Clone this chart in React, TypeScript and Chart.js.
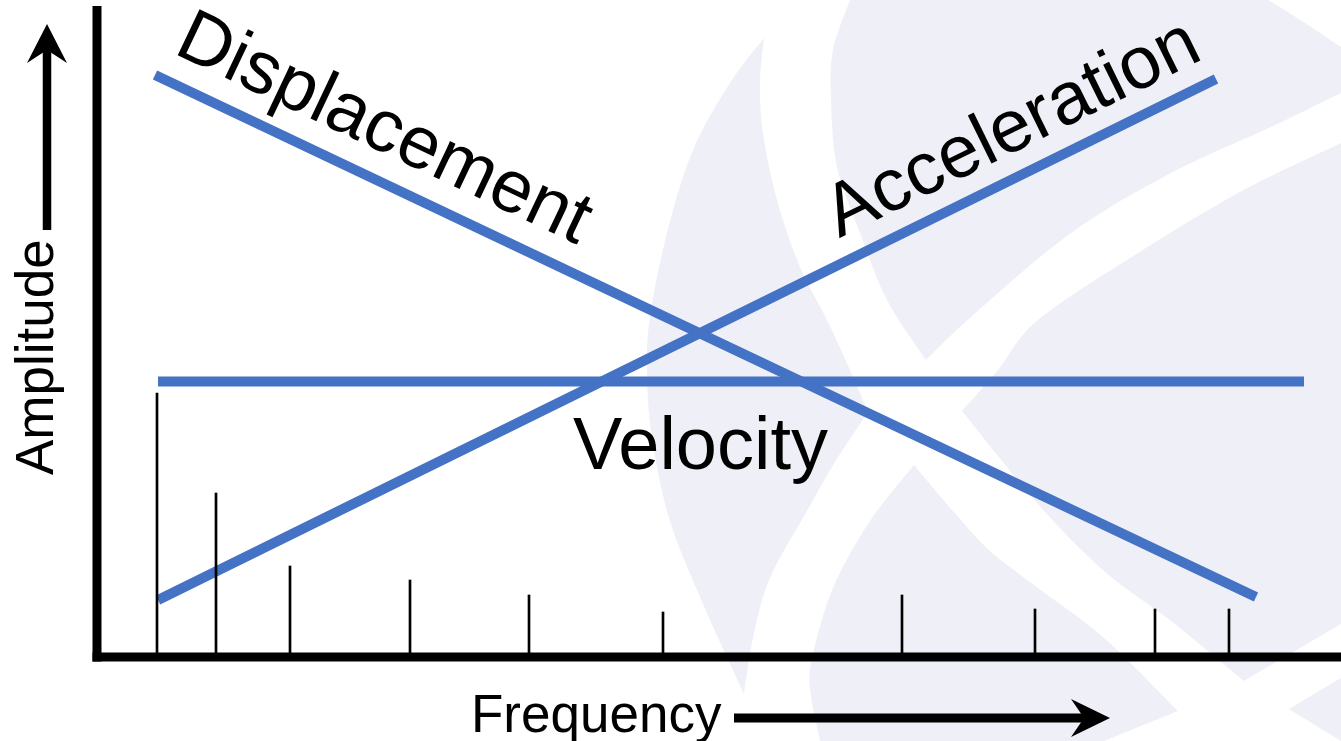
import React, { useEffect, useRef } from "react";
import { Chart, registerables } from "chart.js";

Chart.register(...registerables);

const W = 1341;
const H = 741;

// ---- data (arbitrary units: frequency along x, amplitude along y) ----
const spectrumFreqs = [6.0, 11.9, 19.3, 31.3, 43.2, 56.6, 80.5, 93.8, 105.8, 113.2];
const spectrumAmps = [26.4, 16.4, 9.1, 7.7, 6.2, 4.5, 6.2, 4.8, 4.8, 4.8];

const displacementX = [5.8, 115.9];
const displacementY = [58.2, 6.0];
const accelerationX = [6.1, 111.9];
const accelerationY = [5.7, 57.8];
const velocityX = [6.1, 120.7];
const velocityY = [27.55, 27.55];

const seriesNames = ["Displacement", "Velocity", "Acceleration"];
const xAxisTitle = "Frequency";
const yAxisTitle = "Amplitude";

const X_MAX = 124.4;
const Y_MAX = 65.7;

// ---- style ----
const LINE_BLUE = "#4472C4";
const WATERMARK = "#EFEFF7";
const FONT = '"Liberation Sans", Arial, sans-serif';

type Pt = [number, number];

// decorative background logo outline (pixels)
const WATERMARK_SHAPES: Pt[][][] = [
  [
    [[764, 38], [760, 83], [763, 133], [777, 200], [800, 267], [827, 320], [850, 370], [868, 412]],
    [[868, 412], [835, 462], [807, 511], [770, 578], [753, 638], [744, 694]],
    [[744, 694], [703, 604], [670, 521], [652, 438], [647, 371], [650, 317], [667, 233], [693, 150], [730, 83], [764, 38]],
  ],
  [
    [[850, 0], [833, 50], [831, 100], [837, 167], [860, 233], [887, 300], [926, 360]],
    [[926, 360], [971, 317], [1071, 233], [1171, 173], [1271, 127], [1341, 93]],
    [[1341, 93], [1341, 47]],
    [[1341, 47], [1302, 21], [1268, 0]],
    [[1268, 0], [850, 0]],
  ],
  [
    [[962, 411], [998, 370], [1038, 320], [1138, 253], [1238, 193], [1341, 143]],
    [[1341, 143], [1341, 624]],
    [[1341, 624], [1244, 681]],
    [[1244, 681], [1171, 621], [1104, 571], [1038, 504], [962, 411]],
  ],
  [
    [[914, 465], [953, 511], [990, 551], [1038, 588], [1104, 638], [1178, 711]],
    [[1178, 711], [1104, 741]],
    [[1104, 741], [820, 741]],
    [[820, 741], [810, 688], [813, 654], [833, 588], [870, 521], [914, 465]],
  ],
  [
    [[1289, 709], [1341, 678]],
    [[1341, 678], [1341, 741]],
    [[1341, 741], [1289, 709]],
  ],
];

function traceEdge(ctx: CanvasRenderingContext2D, pts: Pt[], first: boolean) {
  if (first) ctx.moveTo(pts[0][0], pts[0][1]);
  else ctx.lineTo(pts[0][0], pts[0][1]);
  for (let i = 0; i < pts.length - 1; i++) {
    const p0 = pts[Math.max(0, i - 1)];
    const p1 = pts[i];
    const p2 = pts[i + 1];
    const p3 = pts[Math.min(pts.length - 1, i + 2)];
    const c1x = p1[0] + (p2[0] - p0[0]) / 6;
    const c1y = p1[1] + (p2[1] - p0[1]) / 6;
    const c2x = p2[0] - (p3[0] - p1[0]) / 6;
    const c2y = p2[1] - (p3[1] - p1[1]) / 6;
    ctx.bezierCurveTo(c1x, c1y, c2x, c2y, p2[0], p2[1]);
  }
}

const watermarkPlugin = {
  id: "watermark",
  beforeDatasetsDraw(chart: any) {
    const ctx: CanvasRenderingContext2D = chart.ctx;
    ctx.save();
    ctx.fillStyle = WATERMARK;
    for (const shape of WATERMARK_SHAPES) {
      ctx.beginPath();
      shape.forEach((edge, i) => traceEdge(ctx, edge, i === 0));
      ctx.closePath();
      ctx.fill();
    }
    ctx.restore();
  },
};

function drawAlong(
  ctx: CanvasRenderingContext2D,
  text: string,
  x0: number,
  y0: number,
  x1: number,
  y1: number,
  along: number,
  perp: number
) {
  const ang = Math.atan2(y1 - y0, x1 - x0);
  ctx.save();
  ctx.translate(x0, y0);
  ctx.rotate(ang);
  ctx.fillText(text, along, perp);
  ctx.restore();
}

const annotationPlugin = {
  id: "annotations",
  afterDatasetsDraw(chart: any) {
    const ctx: CanvasRenderingContext2D = chart.ctx;
    const xs = chart.scales.x;
    const ys = chart.scales.y;
    const area = chart.chartArea;
    ctx.save();
    ctx.fillStyle = "#000";

    // axes
    const ax = area.left;
    const ay = area.bottom;
    ctx.fillRect(ax - 4.5, 6, 9, ay + 4.5 - 6);
    ctx.fillRect(ax - 4.5, ay - 4.5, area.right - ax + 4.5, 9);

    // series labels
    ctx.font = `74px ${FONT}`;
    ctx.textAlign = "left";
    ctx.textBaseline = "alphabetic";
    drawAlong(
      ctx,
      seriesNames[0],
      xs.getPixelForValue(displacementX[0]),
      ys.getPixelForValue(displacementY[0]),
      xs.getPixelForValue(displacementX[1]),
      ys.getPixelForValue(displacementY[1]),
      6,
      -27.5
    );
    drawAlong(
      ctx,
      seriesNames[1],
      xs.getPixelForValue(velocityX[0]),
      ys.getPixelForValue(velocityY[0]),
      xs.getPixelForValue(velocityX[1]),
      ys.getPixelForValue(velocityY[1]),
      415,
      87
    );
    drawAlong(
      ctx,
      seriesNames[2],
      xs.getPixelForValue(accelerationX[0]),
      ys.getPixelForValue(accelerationY[0]),
      xs.getPixelForValue(accelerationX[1]),
      ys.getPixelForValue(accelerationY[1]),
      771,
      -23.5
    );

    // y axis title + arrow
    ctx.font = `53px ${FONT}`;
    ctx.save();
    ctx.translate(53, 475);
    ctx.rotate(-Math.PI / 2);
    ctx.fillText(yAxisTitle, 0, 0);
    ctx.restore();
    ctx.fillRect(42.75, 48, 8.5, 182);
    ctx.beginPath();
    ctx.moveTo(47, 24);
    ctx.lineTo(67, 63);
    ctx.lineTo(47, 50);
    ctx.lineTo(27, 63);
    ctx.closePath();
    ctx.fill();

    // x axis title + arrow
    ctx.fillText(xAxisTitle, 471, 732);
    ctx.fillRect(734, 713.5, 352, 9);
    ctx.beginPath();
    ctx.moveTo(1110, 718);
    ctx.lineTo(1071, 737);
    ctx.lineTo(1084, 718);
    ctx.lineTo(1071, 699);
    ctx.closePath();
    ctx.fill();

    ctx.restore();
  },
};

function pairs(xv: number[], yv: number[]) {
  return xv.map((x, i) => ({ x, y: yv[i] }));
}

export default function App() {
  const ref = useRef<HTMLCanvasElement | null>(null);

  useEffect(() => {
    const canvas = ref.current;
    if (!canvas) return;
    const lineStyle = {
      type: "line" as const,
      borderColor: LINE_BLUE,
      borderWidth: 10,
      pointRadius: 0,
      pointHoverRadius: 0,
      fill: false,
      tension: 0,
      showLine: true,
      borderCapStyle: "butt" as const,
      order: 1,
    };
    const chart = new Chart(canvas, {
      type: "scatter",
      data: {
        datasets: [
          {
            type: "bar",
            label: "Spectrum",
            data: pairs(spectrumFreqs, spectrumAmps),
            backgroundColor: "#000",
            borderWidth: 0,
            barThickness: 2,
            grouped: false,
            order: 0,
          } as any,
          { ...lineStyle, label: seriesNames[0], data: pairs(displacementX, displacementY) },
          { ...lineStyle, label: seriesNames[1], data: pairs(velocityX, velocityY) },
          { ...lineStyle, label: seriesNames[2], data: pairs(accelerationX, accelerationY) },
        ],
      },
      options: {
        responsive: false,
        animation: false,
        devicePixelRatio: 1,
        events: [],
        layout: { padding: { left: 97, right: 0, top: 0, bottom: 84 } },
        plugins: { legend: { display: false }, tooltip: { enabled: false } },
        scales: {
          x: { type: "linear", min: 0, max: X_MAX, display: false, offset: false },
          y: { type: "linear", min: 0, max: Y_MAX, display: false },
        },
      },
      plugins: [watermarkPlugin, annotationPlugin],
    });
    return () => chart.destroy();
  }, []);

  return (
    <div style={{ position: "fixed", left: 0, top: 0, width: W, height: H, background: "#fff" }}>
      <canvas ref={ref} width={W} height={H} style={{ display: "block", width: W, height: H }} />
    </div>
  );
}
